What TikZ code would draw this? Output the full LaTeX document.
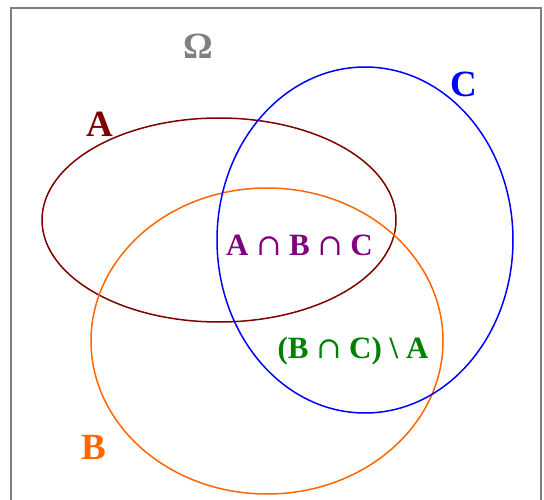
\documentclass[tikz,border=0pt]{standalone}
\usepackage{fontspec}
\setmainfont{Liberation Serif}
\newfontfamily\capfont{DejaVu Serif}
\newcommand{\cp}{{\capfont\mdseries\fontsize{30}{34}\selectfont ∩}}
\definecolor{darkred}{HTML}{800000}
\definecolor{orng}{HTML}{FF6600}
\definecolor{blu}{HTML}{0000FF}
\definecolor{grn}{HTML}{008000}
\definecolor{purp}{HTML}{800080}
\definecolor{frame}{HTML}{808080}
\begin{document}
\begin{tikzpicture}[x=1pt,y=-1pt,
  setline/.style={line width=1.5pt},
  lbl/.style={font=\fontsize{37}{42}\selectfont\bfseries, inner sep=0pt},
  sublbl/.style={font=\fontsize{31}{36}\selectfont\bfseries, inner sep=0pt, anchor=base}]
\useasboundingbox (0,0) rectangle (544,500);
\draw[frame, line width=2pt] (11,520) -- (11,8) -- (541,8) -- (541,520);
\draw[setline, darkred] (219,220) ellipse [x radius=177, y radius=102];
\draw[setline, orng] (267,341) ellipse [x radius=176, y radius=153];
\draw[setline, blu] (365,240) ellipse [x radius=148, y radius=173];
\node[lbl, text=frame] (omega) at (198.5,46) {Ω};
\node[lbl, text=darkred] (la) at (100,124.5) {A};
\node[lbl, text=blu] (lc) at (464,84.5) {C};
\node[lbl, text=orng] (lb) at (94,447) {B};
\node[sublbl, text=purp] (abc) at (299.5,255) {A \cp{} B \cp{} C};
\node[sublbl, text=grn] (bca) at (353,358) {(B \cp{} C) \textbackslash\ A};
\end{tikzpicture}
\end{document}
